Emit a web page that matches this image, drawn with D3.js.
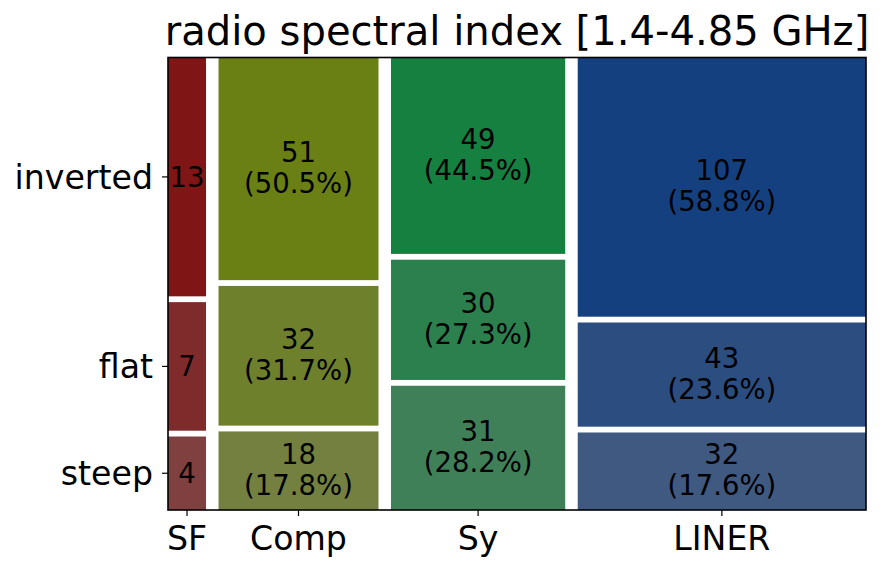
<!DOCTYPE html>
<html>
<head>
<meta charset="utf-8">
<script src="https://cdn.jsdelivr.net/npm/d3@7"></script>
<style>
    body { margin: 0; background: #fff; }
    text { font-family: "DejaVu Sans", sans-serif; fill: #000; }
</style>
</head>
<body>
<svg id="chart" width="889" height="573"></svg>
<script>
// Data //
const title = "radio spectral index [1.4-4.85 GHz]"
const classes = ["SF", "Comp", "Sy", "LINER"]
const indices = ["steep", "flat", "inverted"]   // bottom to top
const steep    = [4, 18, 31, 32]
const flat     = [7, 32, 30, 43]
const inverted = [13, 51, 49, 107]
const showPct  = [false, true, true, true]

// hue per class, saturation per spectral index (value fixed)
const hues = [0.0, 0.2, 0.4, 0.6]
const sats = [0.5, 2/3, 5/6]

// Layout //
const svg = d3.select("#chart")
const margin = {left: 168, top: 57.5, right: 23, bottom: 63}
const W = 889 - margin.left - margin.right
const H = 573 - margin.top - margin.bottom
const hgap = 12.5
const vgap = 5.8

const counts = [steep, flat, inverted]
const colTotals = classes.map((c, i) => d3.sum(counts, row => row[i]))
const grand = d3.sum(colTotals)

const xw = d3.scaleLinear().domain([0, grand]).range([0, W - hgap * (classes.length - 1)])
const yh = d3.scaleLinear().domain([0, 1]).range([0, H - vgap * (indices.length - 1)])

function hsv(h, s, v) {
    const i = Math.floor(h * 6), f = h * 6 - i
    const p = v * (1 - s), q = v * (1 - s * f), t = v * (1 - s * (1 - f))
    const rgb = [[v, t, p], [q, v, p], [p, v, t], [p, q, v], [t, p, v], [v, p, q]][i % 6]
    return d3.rgb(rgb[0] * 255, rgb[1] * 255, rgb[2] * 255).toString()
}

// build tiles
const tiles = []
const colCenters = []
let x0 = margin.left
classes.forEach((c, i) => {
    const w = xw(colTotals[i])
    colCenters.push(x0 + w / 2)
    let yBottom = margin.top + H
    indices.forEach((idx, j) => {
        const n = counts[j][i]
        const h = yh(n / colTotals[i])
        tiles.push({
            cls: i, idx: j, n: n,
            pct: n / colTotals[i] * 100,
            x: x0, y: yBottom - h, w: w, h: h,
            color: hsv(hues[i], sats[j], 0.5)
        })
        yBottom -= h + vgap
    })
    x0 += w + hgap
})

const g = svg.append("g")

g.selectAll("rect.tile")
    .data(tiles)
    .enter()
    .append("rect")
    .attr("class", "tile")
    .attr("x", d => d.x)
    .attr("y", d => d.y)
    .attr("width", d => d.w)
    .attr("height", d => d.h)
    .attr("fill", d => d.color)

// tile labels
const labels = g.selectAll("g.lab")
    .data(tiles)
    .enter()
    .append("g")
    .attr("class", "lab")
    .attr("transform", d => `translate(${d.x + d.w / 2},${d.y + d.h / 2})`)

labels.each(function(d) {
    const sel = d3.select(this)
    if (showPct[d.cls]) {
        sel.append("text")
            .attr("text-anchor", "middle")
            .attr("y", -7)
            .attr("font-size", 27.5)
            .text(d.n)
        sel.append("text")
            .attr("text-anchor", "middle")
            .attr("y", 24)
            .attr("font-size", 27.5)
            .text("(" + d.pct.toFixed(1) + "%)")
    } else {
        sel.append("text")
            .attr("text-anchor", "middle")
            .attr("y", 10)
            .attr("font-size", 27.5)
            .text(d.n)
    }
})

// frame
svg.append("rect")
    .attr("x", margin.left)
    .attr("y", margin.top)
    .attr("width", W)
    .attr("height", H)
    .attr("fill", "none")
    .attr("stroke", "#000")
    .attr("stroke-width", 1.6)

// x ticks
const xt = svg.append("g")
classes.forEach((c, i) => {
    xt.append("line")
        .attr("x1", colCenters[i]).attr("x2", colCenters[i])
        .attr("y1", margin.top + H).attr("y2", margin.top + H + 6)
        .attr("stroke", "#000").attr("stroke-width", 1.2)
    xt.append("text")
        .attr("x", colCenters[i])
        .attr("y", 550)
        .attr("text-anchor", "middle")
        .attr("font-size", 33.2)
        .text(c)
})

// y ticks at centers of first column's tiles
const yt = svg.append("g")
tiles.filter(d => d.cls === 0).forEach(d => {
    const cy = d.y + d.h / 2
    yt.append("line")
        .attr("x1", margin.left - 6).attr("x2", margin.left)
        .attr("y1", cy).attr("y2", cy)
        .attr("stroke", "#000").attr("stroke-width", 1.2)
    yt.append("text")
        .attr("x", margin.left - 15)
        .attr("y", cy + 12)
        .attr("text-anchor", "end")
        .attr("font-size", 33.2)
        .text(indices[d.idx])
})

// title
svg.append("text")
    .attr("x", margin.left + W / 2)
    .attr("y", 45)
    .attr("text-anchor", "middle")
    .attr("font-size", 40.1)
    .text(title)
</script>
</body>
</html>
